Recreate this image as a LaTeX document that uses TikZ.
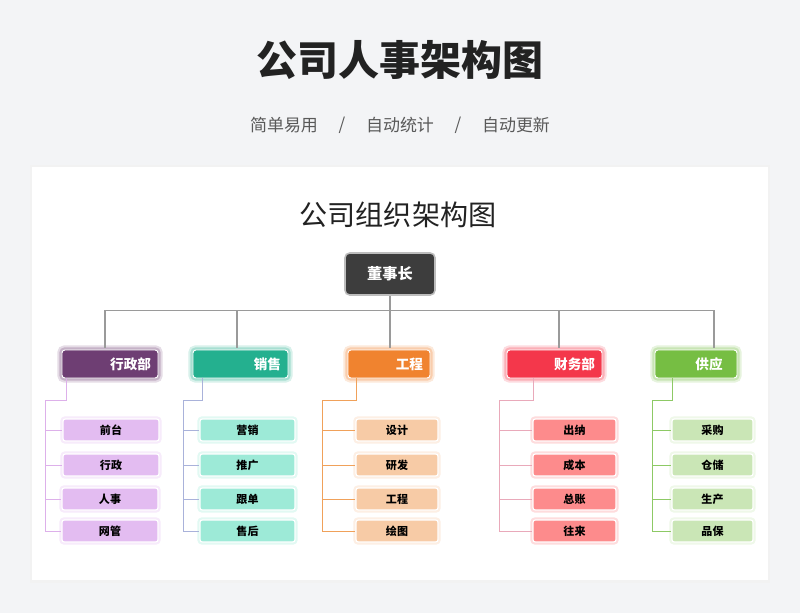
\documentclass[tikz,border=0pt]{standalone}
\usepackage{fontspec}
\setmainfont{Noto Sans CJK SC}
\usepackage{xcolor}
\usepackage{tikz}
\usetikzlibrary{positioning,calc}
\definecolor{Page}{HTML}{F3F4F6}
\definecolor{Ink}{HTML}{222222}
\definecolor{Soft}{HTML}{595959}
\definecolor{Boss}{HTML}{3D3D3D}
\definecolor{Frame}{HTML}{BDBDBD}
\definecolor{Wire}{HTML}{9A9A9A}
\definecolor{PurpleD}{HTML}{6E3E73}
\definecolor{TealD}{HTML}{24B08F}
\definecolor{OrangeD}{HTML}{F0832F}
\definecolor{RedD}{HTML}{F4374B}
\definecolor{GreenD}{HTML}{76BE43}
\definecolor{PurpleK}{HTML}{E3BCF1}
\definecolor{TealK}{HTML}{9DEAD7}
\definecolor{OrangeK}{HTML}{F7CBA6}
\definecolor{RedK}{HTML}{FD8B8C}
\definecolor{GreenK}{HTML}{CAE6B6}
\definecolor{PurpleL}{HTML}{DDB0EA}
\definecolor{TealL}{HTML}{A9B2DA}
\definecolor{OrangeL}{HTML}{F0A15A}
\definecolor{RedL}{HTML}{E9A9BA}
\definecolor{GreenL}{HTML}{8DC965}

\begin{document}
\begin{tikzpicture}[x=0.03cm,y=-0.03cm,
    sub/.style={text=Soft,font=\fontsize{14.5}{16}\selectfont},
    boss/.style={draw=Frame,line width=1.3pt,fill=Boss,rounded corners=4pt,minimum width=2.7cm,minimum height=1.26cm,text=white,font=\bfseries\fontsize{13}{14}\selectfont},
    dept/.style={fill=#1,draw=white,line width=0.8pt,rounded corners=2.5pt,preaction={draw=#1!18,line width=8pt},preaction={draw=#1!40,line width=4.5pt},inner xsep=0.21cm,inner ysep=0pt,minimum height=0.84cm,align=right,text=white,font=\bfseries\fontsize{11.6}{13}\selectfont},
    kid/.style 2 args={fill=#1,minimum width=#2,draw=white,line width=1pt,rounded corners=2pt,preaction={draw=#1!30,line width=4.5pt},minimum height=0.66cm,inner sep=0pt,font=\bfseries\fontsize{9.4}{10}\selectfont},
    ln/.style={draw=Wire,line width=0.9pt},
    br/.style={draw=#1,line width=0.8pt}]
    \useasboundingbox (0,0) rectangle (800,613);
    \fill[Page] (0,0) rectangle (800,613);
    \fill[black!5] (30,165) rectangle (770,583);
    \fill[white] (32,167) rectangle (768,580);
    \node[text=Ink,font=\bfseries\fontsize{35}{40}\selectfont] (title) at (400,60) {公司人事架构图};
    \node[sub] (s1) at (284,125) {简单易用};
    \node[sub] (sl1) at (342,125) {/};
    \node[sub] (s2) at (400,125) {自动统计};
    \node[sub] (sl2) at (458,125) {/};
    \node[sub] (s3) at (516,125) {自动更新};
    \node[text=Ink,font=\fontsize{24}{28}\selectfont] (head) at (398,215) {公司组织架构图};
    \node[boss] (ceo) at (390,274) {董事长};
    \node[dept=PurpleD,text width=2.46cm] (d1) at (110,364) {行政部};
    \node[dept=TealD,text width=2.43cm] (d2) at (240.5,364) {销售};
    \node[dept=OrangeD,text width=2.04cm] (d3) at (389,364) {工程};
    \node[dept=RedD,text width=2.43cm] (d4) at (554.5,364) {财务部};
    \node[dept=GreenD,text width=2.04cm] (d5) at (696,364) {供应\hspace*{0.22cm}};
    \draw[ln] ([shift={(-5,-2)}]d1.north) -- ++(0,-37) -| ([shift={(18,-2)}]d5.north);
    \draw[ln] ([shift={(-3.5,-2)}]d2.north) -- ++(0,-37);
    \draw[ln] ([shift={(4.5,-2)}]d4.north) -- ++(0,-37);
    \draw[ln] (ceo.south) -- ([shift={(0,-2)}]ceo.south |- d3.north);
    \node[kid={PurpleK}{2.88cm}] (k11) at (111,430) {前台};
    \node[kid={PurpleK}{2.88cm}] (k12) at (111,465) {行政};
    \node[kid={PurpleK}{2.88cm}] (k13) at (110,499) {人事};
    \node[kid={PurpleK}{2.88cm}] (k14) at (110,531) {网管};
    \node[kid={TealK}{2.85cm}] (k21) at (247.5,430) {营销};
    \node[kid={TealK}{2.85cm}] (k22) at (247.5,465) {推广};
    \node[kid={TealK}{2.85cm}] (k23) at (247.5,499) {跟单};
    \node[kid={TealK}{2.85cm}] (k24) at (247.5,531) {售后};
    \node[kid={OrangeK}{2.46cm}] (k31) at (397,430) {设计};
    \node[kid={OrangeK}{2.46cm}] (k32) at (397,465) {研发};
    \node[kid={OrangeK}{2.46cm}] (k33) at (397,499) {工程};
    \node[kid={OrangeK}{2.46cm}] (k34) at (397,531) {绘图};
    \node[kid={RedK}{2.49cm}] (k41) at (574.5,430) {出纳};
    \node[kid={RedK}{2.49cm}] (k42) at (574.5,465) {成本};
    \node[kid={RedK}{2.49cm}] (k43) at (574.5,499) {总账};
    \node[kid={RedK}{2.49cm}] (k44) at (574.5,531) {往来};
    \node[kid={GreenK}{2.43cm}] (k51) at (712.5,430) {采购};
    \node[kid={GreenK}{2.43cm}] (k52) at (712.5,465) {仓储};
    \node[kid={GreenK}{2.43cm}] (k53) at (712.5,499) {生产};
    \node[kid={GreenK}{2.43cm}] (k54) at (712.5,531) {品保};
    \draw[br=PurpleL] ([shift={(5,0)}]d1.south west) -- ++(0,22) -| ([shift={(-16,0)}]k14.west) -- (k14.west);
    \draw[br=PurpleL] ([shift={(-16,0)}]k11.west) -- (k11.west);
    \draw[br=PurpleL] ([shift={(-16,0)}]k12.west) -- (k12.west);
    \draw[br=PurpleL] ([shift={(-15,0)}]k13.west) -- (k13.west);
    \draw[br=TealL] ([shift={(10,0)}]d2.south west) -- ++(0,22) -| ([shift={(-16,0)}]k24.west) -- (k24.west);
    \draw[br=TealL] ([shift={(-16,0)}]k21.west) -- (k21.west);
    \draw[br=TealL] ([shift={(-16,0)}]k22.west) -- (k22.west);
    \draw[br=TealL] ([shift={(-16,0)}]k23.west) -- (k23.west);
    \draw[br=OrangeL] ([shift={(9,0)}]d3.south west) -- ++(0,22) -| ([shift={(-33,0)}]k34.west) -- (k34.west);
    \draw[br=OrangeL] ([shift={(-33,0)}]k31.west) -- (k31.west);
    \draw[br=OrangeL] ([shift={(-33,0)}]k32.west) -- (k32.west);
    \draw[br=OrangeL] ([shift={(-33,0)}]k33.west) -- (k33.west);
    \draw[br=RedL] ([shift={(27,0)}]d4.south west) -- ++(0,22) -| ([shift={(-33,0)}]k44.west) -- (k44.west);
    \draw[br=RedL] ([shift={(-33,0)}]k41.west) -- (k41.west);
    \draw[br=RedL] ([shift={(-33,0)}]k42.west) -- (k42.west);
    \draw[br=RedL] ([shift={(-33,0)}]k43.west) -- (k43.west);
    \draw[br=GreenL] ([shift={(18,0)}]d5.south west) -- ++(0,22) -| ([shift={(-19,0)}]k54.west) -- (k54.west);
    \draw[br=GreenL] ([shift={(-19,0)}]k51.west) -- (k51.west);
    \draw[br=GreenL] ([shift={(-19,0)}]k52.west) -- (k52.west);
    \draw[br=GreenL] ([shift={(-19,0)}]k53.west) -- (k53.west);
  \end{tikzpicture}
\end{document}
